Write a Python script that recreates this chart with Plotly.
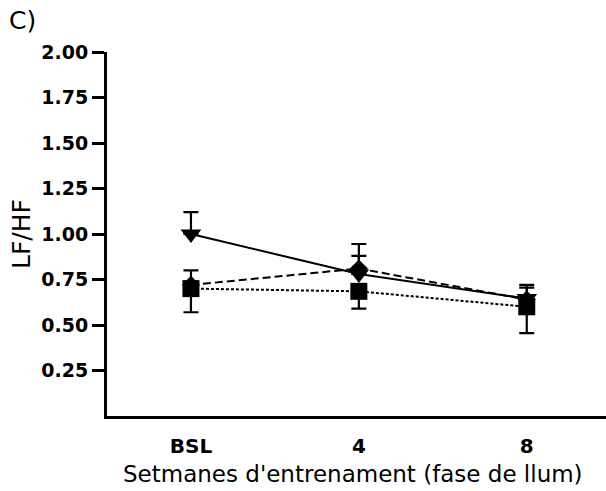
import plotly.graph_objects as go

# Training weeks (light phase)
weeks = ["BSL", "4", "8"]

# LF/HF ratio per group
solid_vals = [1.00, 0.78, 0.645]
solid_err_up = [0.12, 0.10, 0.06]

dashed_vals = [0.72, 0.81, 0.64]
dashed_err_up = [0.08, 0.135, 0.08]

dotted_vals = [0.70, 0.685, 0.60]
dotted_err_down = [0.13, 0.095, 0.145]

y_ticks = [0.25, 0.50, 0.75, 1.00, 1.25, 1.50, 1.75, 2.00]

BLACK = "black"
FONT = "DejaVu Sans"

# plot area in pixels: x 107..606, y 52..416
PLOT_W, PLOT_H = 499, 364

fig = go.Figure()

fig.add_trace(go.Scatter(
    x=weeks, y=solid_vals, mode="lines+markers",
    line=dict(color=BLACK, width=2, dash="solid"),
    marker=dict(symbol="triangle-down", size=18, color=BLACK),
    error_y=dict(type="data", array=solid_err_up, arrayminus=[0, 0, 0],
                 symmetric=False, color=BLACK, thickness=2.2, width=7.5),
    showlegend=False,
))

fig.add_trace(go.Scatter(
    x=weeks, y=dashed_vals, mode="lines+markers",
    line=dict(color=BLACK, width=2, dash="8px,4px"),
    marker=dict(symbol="diamond", size=14, color=BLACK),
    error_y=dict(type="data", array=dashed_err_up, arrayminus=[0, 0, 0],
                 symmetric=False, color=BLACK, thickness=2.2, width=7.5),
    showlegend=False,
))

fig.add_trace(go.Scatter(
    x=weeks, y=dotted_vals, mode="lines+markers",
    line=dict(color=BLACK, width=2, dash="3px,2px"),
    marker=dict(symbol="square", size=17, color=BLACK),
    error_y=dict(type="data", array=[0, 0, 0], arrayminus=dotted_err_down,
                 symmetric=False, color=BLACK, thickness=2.2, width=7.5),
    showlegend=False,
))

fig.update_layout(
    width=606, height=491,
    margin=dict(l=107, r=0, t=52, b=75),
    paper_bgcolor="white", plot_bgcolor="white",
    font=dict(family=FONT, color=BLACK),
    xaxis=dict(
        type="category",
        range=[-0.5, 2.472],
        showgrid=False, zeroline=False,
        showline=True, linecolor=BLACK, linewidth=3,
        ticks="", ticklabelstandoff=10,
        tickfont=dict(family=FONT, size=20, weight="bold"),
    ),
    yaxis=dict(
        range=[0, 2.0],
        tickvals=y_ticks, tickformat=".2f",
        showgrid=False, zeroline=False,
        showline=True, linecolor=BLACK, linewidth=3,
        ticks="outside", ticklen=12, tickwidth=3, tickcolor=BLACK,
        ticklabelstandoff=0,
        tickfont=dict(family=FONT, size=19, weight="bold"),
        title=dict(text="LF/HF", font=dict(family=FONT, size=25), standoff=4),
    ),
    annotations=[
        dict(text="C)", xref="paper", yref="paper",
             x=-100 / PLOT_W, y=1 + 32 / PLOT_H, xanchor="left", yanchor="middle",
             showarrow=False, font=dict(family=FONT, size=25, color=BLACK)),
        dict(text="Setmanes d'entrenament (fase de llum)", xref="paper", yref="paper",
             x=(353 - 107) / PLOT_W, y=-58 / PLOT_H, xanchor="center", yanchor="middle",
             showarrow=False, font=dict(family=FONT, size=23, color=BLACK)),
    ],
)

fig.write_html("out.html")
